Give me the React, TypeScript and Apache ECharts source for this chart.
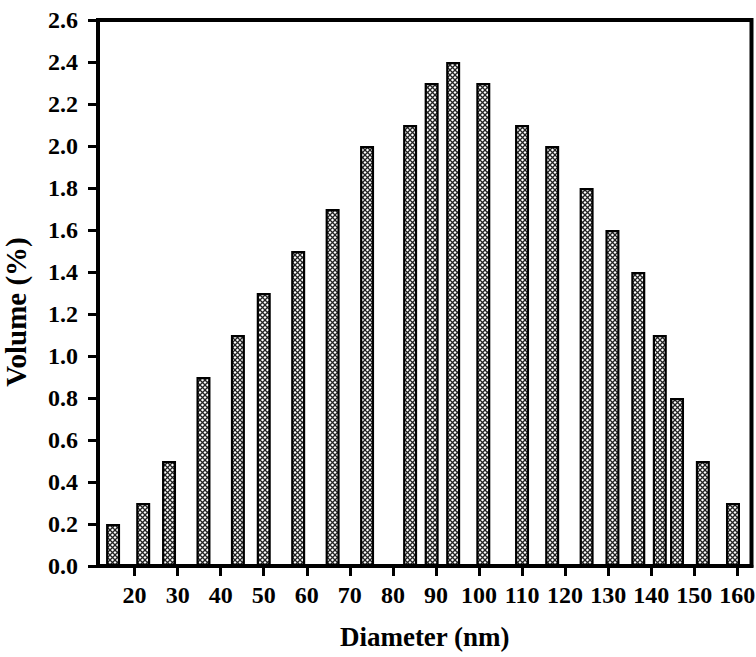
import React, { useEffect, useRef } from "react";
import * as echarts from "echarts";

const diameters = [15, 22, 28, 36, 44, 50, 58, 66, 74, 84, 89, 94, 101, 110, 117, 125, 131, 137, 142, 146, 152, 159];
const volumes = [0.2, 0.3, 0.5, 0.9, 1.1, 1.3, 1.5, 1.7, 2.0, 2.1, 2.3, 2.4, 2.3, 2.1, 2.0, 1.8, 1.6, 1.4, 1.1, 0.8, 0.5, 0.3];
const xTicks = [20, 30, 40, 50, 60, 70, 80, 90, 100, 110, 120, 130, 140, 150, 160];

function makePattern(): string {
  const c = document.createElement("canvas");
  const s = 5;
  c.width = s;
  c.height = s;
  const ctx = c.getContext("2d")!;
  ctx.fillStyle = "#ffffff";
  ctx.fillRect(0, 0, s, s);
  ctx.strokeStyle = "#222";
  ctx.lineWidth = 1.3;
  ctx.beginPath();
  ctx.moveTo(-1, -1);
  ctx.lineTo(s + 1, s + 1);
  ctx.moveTo(-1, s + 1);
  ctx.lineTo(s + 1, -1);
  ctx.stroke();
  return c.toDataURL();
}

const FONT = "'Liberation Serif', 'Times New Roman', serif";

export default function App() {
  const ref = useRef<HTMLDivElement>(null);
  useEffect(() => {
    if (!ref.current) return;
    const chart = echarts.init(ref.current, undefined, { renderer: "svg" });
    const pattern = makePattern();
    chart.setOption({
      animation: false,
      backgroundColor: "#fff",
      grid: {
        left: 98,
        top: 20,
        right: 4.5,
        bottom: 91,
        show: true,
        borderColor: "#000",
        borderWidth: 4,
        containLabel: false,
        outerBoundsMode: "none",
      },
      xAxis: {
        type: "value",
        min: 11.5,
        max: 163.3,
        name: "Diameter (nm)",
        nameLocation: "middle",
        nameGap: 57,
        nameTextStyle: { fontFamily: FONT, fontWeight: "bold", fontSize: 27, color: "#000" },
        axisLine: { show: true, lineStyle: { color: "#000", width: 4 } },
        axisTick: { show: true, customValues: xTicks, length: 10, lineStyle: { color: "#000", width: 3 } },
        axisLabel: {
          customValues: xTicks,
          fontFamily: FONT,
          fontWeight: "bold",
          fontSize: 24,
          color: "#000",
          margin: 17,
        },
        splitLine: { show: false },
      },
      yAxis: {
        type: "value",
        min: 0,
        max: 2.6,
        interval: 0.2,
        name: "Volume (%)",
        nameLocation: "middle",
        nameGap: 68,
        nameTextStyle: {
          fontFamily: FONT,
          fontWeight: "bold",
          fontSize: 29,
          color: "#000",
          padding: [0, 38, 0, 0],
        },
        axisLine: { show: true, lineStyle: { color: "#000", width: 4 } },
        axisTick: { show: true, length: 10, lineStyle: { color: "#000", width: 3 } },
        axisLabel: {
          formatter: (v: number) => v.toFixed(1),
          fontFamily: FONT,
          fontWeight: "bold",
          fontSize: 24,
          color: "#000",
          margin: 20,
        },
        splitLine: { show: false },
      },
      series: [
        {
          type: "bar",
          data: diameters.map((d, i) => [d, volumes[i]]),
          barWidth: 14,
          itemStyle: {
            color: { image: pattern, repeat: "repeat" },
            borderColor: "#000",
            borderWidth: 2.2,
          },
        },
      ],
    });
    return () => chart.dispose();
  }, []);
  return <div ref={ref} style={{ width: 756, height: 657, position: "absolute", left: 0, top: 0 }} />;
}
